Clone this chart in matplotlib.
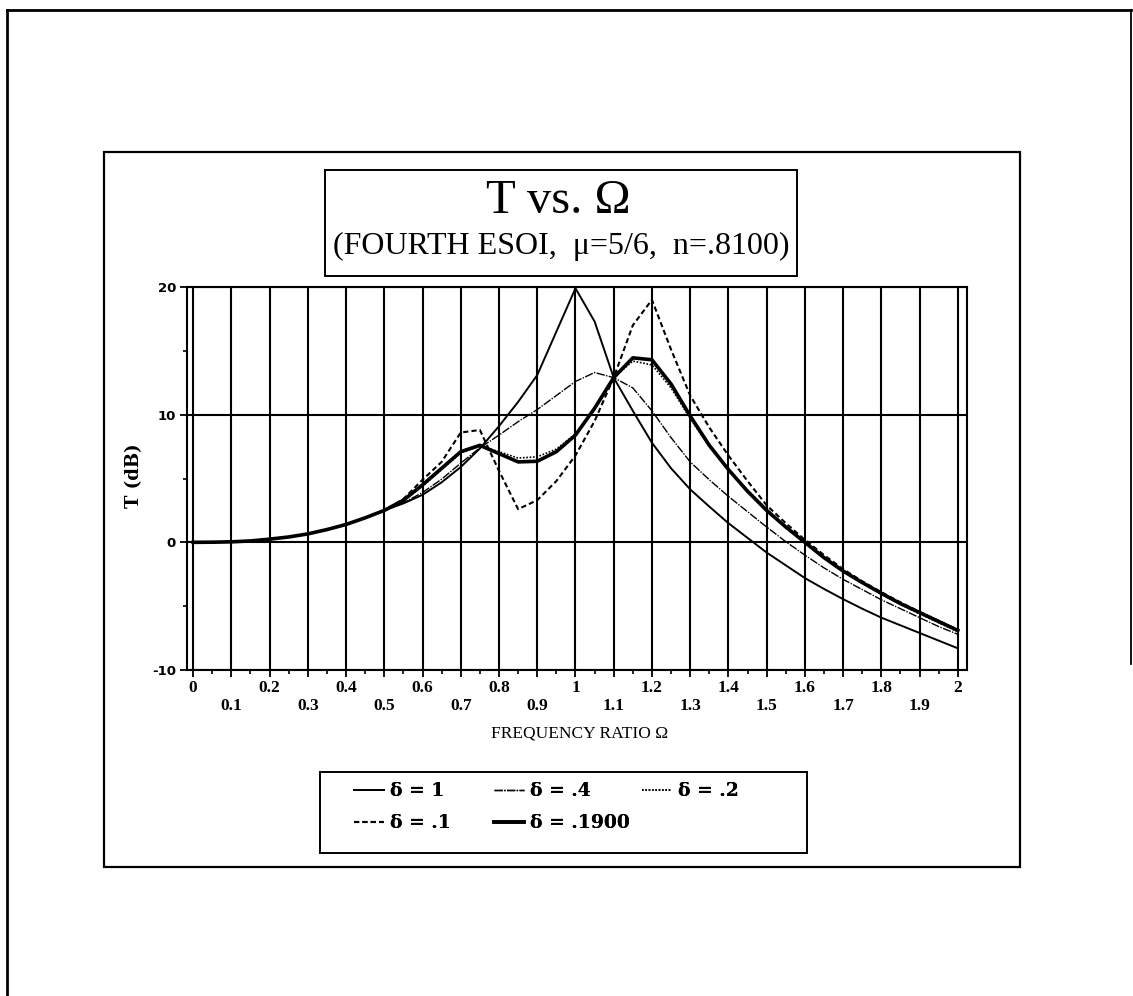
import numpy as np
import matplotlib
matplotlib.use('Agg')
import matplotlib.pyplot as plt
from matplotlib.patches import Rectangle
from matplotlib.lines import Line2D

# frequency ratio samples (step 0.05)
omega = np.round(np.arange(0.0, 2.0001, 0.05), 2)

low = [0.0, 0.01, 0.04, 0.11, 0.25, 0.42, 0.66, 1.0, 1.4, 1.92, 2.5]

t_d1 = low + [3.05, 3.72, 4.7, 5.9, 7.35, 9.1, 11.0, 13.1, 16.5, 19.9,
              17.3, 12.9, 10.3, 7.8, 5.8, 4.15, 2.8, 1.5, 0.35, -0.8,
              -1.8, -2.8, -3.65, -4.45, -5.2, -5.9, -6.5, -7.1, -7.7, -8.3]
t_d04 = low + [3.1, 3.9, 4.95, 6.2, 7.4, 8.4, 9.45, 10.4, 11.5, 12.6,
               13.3, 12.9, 12.1, 10.3, 8.2, 6.3, 4.9, 3.6, 2.4, 1.2,
               0.05, -1.0, -2.0, -2.9, -3.7, -4.5, -5.2, -5.9, -6.6, -7.2]
t_d02 = low + [3.3, 4.4, 5.7, 7.0, 7.55, 7.1, 6.6, 6.7, 7.3, 8.5,
               10.4, 12.9, 14.2, 13.9, 12.1, 9.7, 7.5, 5.7, 4.1, 2.6,
               1.25, 0.0, -1.2, -2.3, -3.2, -4.05, -4.85, -5.6, -6.3, -7.0]
t_d01 = low + [3.4, 4.9, 6.3, 8.6, 8.8, 5.6, 2.6, 3.3, 4.8, 6.8,
               9.5, 12.9, 17.0, 19.0, 15.1, 11.5, 9.0, 6.8, 4.8, 2.9,
               1.5, 0.2, -1.0, -2.1, -3.05, -3.9, -4.7, -5.45, -6.15, -6.85]
t_d019 = low + [3.3, 4.5, 5.8, 7.1, 7.6, 6.95, 6.3, 6.35, 7.1, 8.4,
                10.5, 12.9, 14.45, 14.3, 12.4, 9.9, 7.6, 5.7, 4.0, 2.5,
                1.2, 0.0, -1.2, -2.25, -3.15, -4.0, -4.8, -5.5, -6.2, -6.9]

labels = ['δ = 1', 'δ = .4', 'δ = .2', 'δ = .1', 'δ = .1900']

xtick_vals = np.round(np.arange(0.0, 2.0001, 0.1), 1)
xtick_text = ['0', '0.1', '0.2', '0.3', '0.4', '0.5', '0.6', '0.7', '0.8', '0.9',
              '1', '1.1', '1.2', '1.3', '1.4', '1.5', '1.6', '1.7', '1.8', '1.9', '2']
ytick_vals = [-10, 0, 10, 20]

W, H = 1133, 996
fig = plt.figure(figsize=(W / 100, H / 100), dpi=100)

def fx(px):
    return px / W

def fy(py):
    return 1 - py / H

# page borders
fig.add_artist(Line2D([fx(7), fx(7)], [fy(10), 0], color='k', lw=2))
fig.add_artist(Line2D([fx(7), fx(1131)], [fy(10), fy(10)], color='k', lw=2))
fig.add_artist(Line2D([fx(1131), fx(1131)], [fy(10), fy(664)], color='k', lw=1.3))
fig.add_artist(Rectangle((fx(104), fy(867)), fx(1020) - fx(104), fy(152) - fy(867),
                         transform=fig.transFigure, fill=False, ec='k', lw=1.6))

# title box
fig.add_artist(Rectangle((fx(325), fy(276)), fx(797) - fx(325), fy(170) - fy(276),
                         transform=fig.transFigure, fill=False, ec='k', lw=1.4))
fig.text(fx(558), fy(201), 'T vs. Ω', ha='center', va='center',
         fontsize=35, family='Liberation Serif')
fig.text(fx(561), fy(246), '(FOURTH ESOI,  μ=5/6,  n=.8100)', ha='center', va='center',
         fontsize=23, family='Liberation Serif')

ax = fig.add_axes([fx(187), fy(670), fx(967) - fx(187), fy(287) - fy(670)])

ax.plot(omega, t_d1, color='k', lw=1.4, ls='-', label=labels[0])
ax.plot(omega, t_d04, color='k', lw=1.0, ls=(0, (6, 1, 1, 1)), label=labels[1])
ax.plot(omega, t_d02, color='k', lw=1.2, ls=(0, (1, 1)), label=labels[2])
ax.plot(omega, t_d01, color='k', lw=1.5, ls=(0, (2.5, 1.5)), label=labels[3])
ax.plot(omega, t_d019, color='k', lw=2.6, ls='-', label=labels[4])

ax.set_xlim(-0.016, 2.024)
ax.set_ylim(-10, 20)
ax.set_xticks(xtick_vals)
ax.set_xticklabels([t if i % 2 == 0 else '\n' + t for i, t in enumerate(xtick_text)],
                   family='Liberation Serif', fontweight='bold', fontsize=12.5)
ax.set_xticks(np.arange(0.05, 2.0, 0.1), minor=True)
ax.set_yticks(ytick_vals)
ax.set_yticklabels([str(v) for v in ytick_vals], family='DejaVu Sans',
                   fontweight='bold', fontsize=9.5)
ax.set_yticks([-5, 5, 15], minor=True)
for tl in ax.get_xticklabels():
    tl.set_linespacing(1.15)

ax.tick_params(axis='both', which='major', direction='out', length=5, width=1.3, pad=3)
ax.tick_params(axis='x', which='major', pad=2)
ax.tick_params(axis='both', which='minor', direction='out', length=3, width=1.2)
ax.grid(True, which='major', color='k', lw=1.5)
for s in ax.spines.values():
    s.set_linewidth(1.5)

fig.text(fx(580), fy(733), 'FREQUENCY RATIO Ω', ha='center', va='center',
         fontsize=12.5, family='Liberation Serif')
fig.text(fx(134), fy(476), 'T (dB)', ha='center', va='center', rotation=90,
         fontsize=13, family='DejaVu Serif', fontweight='bold')

# legend box with three fixed columns
fig.add_artist(Rectangle((fx(320), fy(853)), fx(807) - fx(320), fy(772) - fy(853),
                         transform=fig.transFigure, fill=False, ec='k', lw=1.4))
h, l = ax.get_legend_handles_labels()
columns = [([0, 3], 345), ([1, 4], 485), ([2], 633)]
for idx, xpos in columns:
    leg = fig.legend([h[i] for i in idx], [l[i] for i in idx], ncol=1, frameon=False,
                     loc='upper left', bbox_to_anchor=(fx(xpos), fy(773)), borderpad=0,
                     handlelength=1.6, handletextpad=0.3, labelspacing=0.75,
                     prop={'family': 'DejaVu Serif', 'weight': 'bold', 'size': 13.5})
    fig.add_artist(leg)

fig.savefig('out.png', dpi=100)
